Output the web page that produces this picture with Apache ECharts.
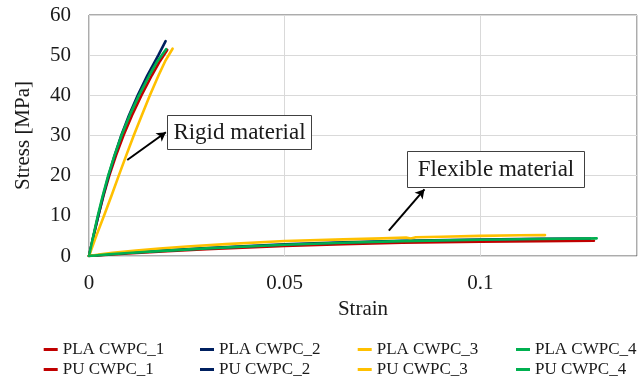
<!DOCTYPE html>
<html>
<head>
<meta charset="utf-8">
<script src="https://cdn.jsdelivr.net/npm/echarts@6/dist/echarts.min.js"></script>
<style>
html,body{margin:0;padding:0;background:#fff;}
#chart{width:639px;height:381px;}
</style>
</head>
<body>
<div id="chart"></div>
<script>
// ---- data ----
const seriesNames = ['PLA CWPC_1','PLA CWPC_2','PLA CWPC_3','PLA CWPC_4','PU CWPC_1','PU CWPC_2','PU CWPC_3','PU CWPC_4'];
const seriesColors = ['#C00000','#002060','#FFC000','#00B050','#C00000','#002060','#FFC000','#00B050'];

const pla1 = [[0,0],[0.00115,5],[0.00237,10],[0.0037,15],[0.00518,20],[0.00689,25],[0.0088,30],[0.01097,35],[0.01339,40],[0.01607,45],[0.01811,48.5],[0.01997,51.3]];
const pla2 = [[0,0],[0.00115,5],[0.00237,10],[0.00362,15],[0.005,20],[0.00653,25],[0.00824,30],[0.0102,35],[0.01245,40],[0.01492,45],[0.01773,50],[0.01957,53.5]];
const pla3 = [[0,0],[0.00186,5],[0.00383,10],[0.00574,15],[0.0076,20],[0.00949,25],[0.01143,30],[0.01347,35],[0.01556,40],[0.01778,45],[0.01946,48.5],[0.02135,51.6]];
const pla4 = [[0,0],[0.0011,5],[0.00224,10],[0.0035,15],[0.0049,20],[0.0065,25],[0.0083,30],[0.01038,35],[0.01276,40],[0.01543,45],[0.01747,48.5],[0.0197,51.5]];

const pu1 = [[0,0],[0.005,0.35],[0.01,0.65],[0.02,1.2],[0.03,1.7],[0.05,2.5],[0.065,2.95],[0.08,3.3],[0.1,3.55],[0.115,3.7],[0.129,3.8]];
const pu2 = [[0,0],[0.005,0.42],[0.01,0.8],[0.02,1.4],[0.03,1.95],[0.05,2.9],[0.065,3.4],[0.08,3.8],[0.1,4.1],[0.115,4.3],[0.128,4.35]];
const pu3 = [[0,0],[0.003,0.45],[0.006,0.8],[0.012,1.35],[0.018,1.85],[0.025,2.35],[0.035,2.95],[0.05,3.75],[0.065,4.15],[0.075,4.4],[0.081,4.6],[0.0822,4.35],[0.0835,4.65],[0.09,4.8],[0.1,5.0],[0.11,5.15],[0.1165,5.2]];
const pu4 = [[0,0],[0.005,0.4],[0.01,0.75],[0.02,1.35],[0.03,1.9],[0.05,2.8],[0.065,3.3],[0.08,3.7],[0.1,4.05],[0.115,4.25],[0.1297,4.4]];

const allData = [pla1,pla2,pla3,pla4,pu1,pu2,pu3,pu4];

const xTicks = {min:0, max:0.14, interval:0.05};
const yTicks = {min:0, max:60, interval:10};

const rigidArrow = [[0.00977,23.9],[0.01964,30.8]];
const flexArrow = [[0.0766,6.3],[0.0857,16.6]];
const rigidText = 'Rigid material';
const flexText = 'Flexible material';

// ---- chart ----
const FONT = '"Liberation Serif","Times New Roman",serif';
const chart = echarts.init(document.getElementById('chart'), null, {renderer:'canvas'});

const series = allData.map((d,i)=>({
  name: seriesNames[i],
  type:'line',
  data:d,
  showSymbol:false,
  symbol:'none',
  smooth:false,
  lineStyle:{color:seriesColors[i], width:2.6, join:'round', cap:'round'},
  itemStyle:{color:seriesColors[i]},
  z: 2+i
}));

series.push({
  type:'line',
  data:[],
  silent:true,
  markLine:{
    silent:true,
    symbol:['none','arrow'],
    symbolSize:[8,9],
    label:{show:false},
    lineStyle:{color:'#000', width:2, type:'solid'},
    data:[
      [{coord:rigidArrow[0]},{coord:rigidArrow[1]}],
      [{coord:flexArrow[0]},{coord:flexArrow[1]}]
    ]
  },
  z: 20
});

const legendCols = [43.7, 200, 357.7, 516];
const legends = legendCols.map((x,c)=>({
  orient:'vertical',
  left:x,
  top:341,
  padding:0,
  itemGap:3,
  itemWidth:14,
  itemHeight:3,
  icon:'rect',
  data:[seriesNames[c], seriesNames[c+4]],
  textStyle:{fontFamily:FONT, fontSize:17, color:'#1a1a1a'}
}));

chart.setOption({
  animation:false,
  backgroundColor:'#fff',
  grid:{left:89, right:2, top:15, bottom:125, show:true, borderColor:'#595959', borderWidth:1, backgroundColor:'transparent'},
  legend: legends,
  xAxis:{
    type:'value',
    min:xTicks.min, max:xTicks.max, interval:xTicks.interval,
    name:'Strain', nameLocation:'middle', nameGap:40,
    nameTextStyle:{fontFamily:FONT, fontSize:21, color:'#1a1a1a'},
    axisLine:{show:false}, axisTick:{show:false},
    axisLabel:{fontFamily:FONT, fontSize:21, color:'#1a1a1a', margin:17, showMaxLabel:false},
    splitLine:{show:true, lineStyle:{color:'#d9d9d9', width:1}}
  },
  yAxis:{
    type:'value',
    min:yTicks.min, max:yTicks.max, interval:yTicks.interval,
    name:'Stress [MPa]', nameLocation:'middle', nameGap:55, nameRotate:90,
    nameTextStyle:{fontFamily:FONT, fontSize:21, color:'#1a1a1a'},
    axisLine:{show:false}, axisTick:{show:false},
    axisLabel:{fontFamily:FONT, fontSize:21, color:'#1a1a1a', margin:18},
    splitLine:{show:true, lineStyle:{color:'#d9d9d9', width:1}}
  },
  series: series,
  graphic:[
    {type:'rect', z:100, shape:{x:167.5, y:115.5, width:144, height:34}, style:{fill:'#fff', stroke:'#404040', lineWidth:1}},
    {type:'text', z:101, x:239.5, y:132.5, style:{text:rigidText, font:'23px '+FONT, fill:'#1a1a1a', align:'center', verticalAlign:'middle'}},
    {type:'rect', z:100, shape:{x:407.5, y:151.5, width:177, height:36}, style:{fill:'#fff', stroke:'#404040', lineWidth:1}},
    {type:'text', z:101, x:496, y:169.5, style:{text:flexText, font:'23px '+FONT, fill:'#1a1a1a', align:'center', verticalAlign:'middle'}}
  ]
});
</script>
</body>
</html>
